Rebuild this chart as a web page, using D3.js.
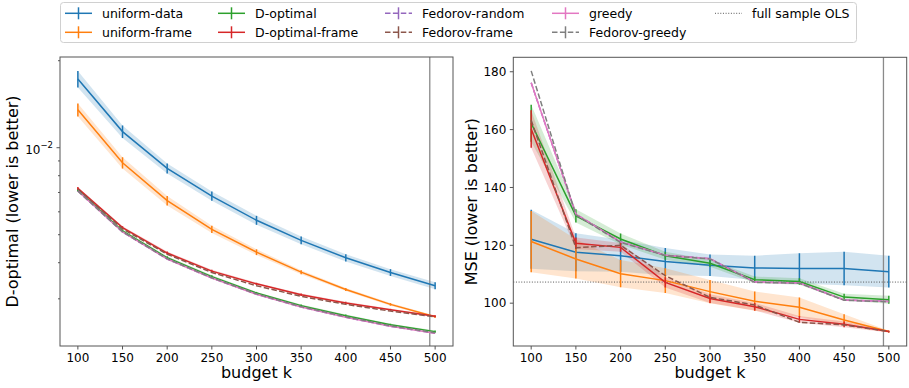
<!DOCTYPE html>
<html><head><meta charset="utf-8">
<script src="https://cdn.jsdelivr.net/npm/d3@7"></script>
<style>body{margin:0;background:#fff;} text{font-family:"DejaVu Sans",sans-serif;fill:#000;}</style>
</head><body><svg id="chart" width="909" height="388"></svg>
<script>
const budgets = [100,150,200,250,300,350,400,450,500];
const seriesNames = ["uniform-data","uniform-frame","D-optimal","D-optimal-frame","Fedorov-random","Fedorov-frame","greedy","Fedorov-greedy"];
const seriesColors = ["#1f77b4","#ff7f0e","#2ca02c","#d62728","#9467bd","#8c564b","#e377c2","#7f7f7f"];
const seriesDashed = [false,false,false,false,true,true,false,true];
const xTicks = [100,150,200,250,300,350,400,450,500];
const budgetLimit = 494;
const fullSampleOLS = 107.3;

// Left panel: D-optimal criterion (log scale)
const doptUniformData     = [0.01728,0.01137,0.00848,0.00680,0.00561,0.00478,0.00416,0.00370,0.00333];
const doptUniformDataErr  = [0.00114,0.00057,0.00034,0.00025,0.00020,0.00015,0.00012,0.00010,0.00009];
const doptUniformFrame    = [0.01352,0.00887,0.00656,0.00522,0.00435,0.00371,0.00323,0.00287,0.00260];
const doptUniformFrameErr = [0.00070,0.00040,0.00025,0.00015,0.00010,0.00006,0.00004,0.00003,0.00002];
const doptDOptimal        = [0.00713,0.00515,0.00416,0.00358,0.00314,0.00284,0.00262,0.00244,0.00231];
const doptDOptimalErr     = [0.00008,0.00006,0.00005,0.00004,0.00003,0.00003,0.00003,0.00002,0.00002];
const doptDOptimalFrame   = [0.00723,0.00529,0.00432,0.00374,0.00338,0.00310,0.00290,0.00275,0.00261];
const doptDOptimalFrameErr= [0.00008,0.00006,0.00005,0.00004,0.00003,0.00003,0.00003,0.00002,0.00002];
const doptFedorovRandom   = [0.00708,0.00511,0.00412,0.00354,0.00311,0.00281,0.00259,0.00241,0.00228];
const doptFedorovFrame    = [0.00718,0.00524,0.00428,0.00370,0.00333,0.00306,0.00287,0.00272,0.00260];
const doptGreedy          = [0.00708,0.00511,0.00412,0.00354,0.00311,0.00281,0.00259,0.00241,0.00228];
const doptFedorovGreedy   = [0.00709,0.00512,0.00413,0.00355,0.00312,0.00282,0.00260,0.00242,0.00229];
const doptMajorTicks = [0.01];
const doptMinorTicks = [0.003,0.004,0.005,0.006,0.007,0.008,0.009,0.02];

// Right panel: MSE
const mseUniformData      = [122.1,117.6,116.4,114.4,113.1,112.2,112.0,112.0,110.9];
const mseUniformDataErr   = [10.2,6.6,5.5,4.7,3.7,4.2,5.3,5.8,5.5];
const mseUniformFrame     = [121.3,115.3,110.2,107.8,104.0,100.7,98.6,94.2,90.2];
const mseUniformFrameErr  = [10.6,6.8,4.7,4.3,4.0,3.3,3.4,2.0,0.3];
const mseDOptimal         = [162.2,130.2,122.2,116.4,113.8,108.1,107.5,102.1,101.2];
const mseDOptimalErr      = [6.4,2.3,1.9,1.4,1.2,1.1,1.1,1.2,1.4];
const mseDOptimalFrame    = [160.2,120.7,119.3,107.2,101.6,98.8,94.4,92.7,90.2];
const mseDOptimalFrameErr = [6.5,2.0,1.5,1.8,1.5,1.3,1.2,1.0,0.3];
const mseFedorovRandom    = [176.2,130.8,121.2,116.6,115.4,107.3,107.0,101.1,100.6];
const mseFedorovFrame     = [163.2,119.2,120.0,109.5,102.0,99.4,93.4,92.5,90.2];
const mseGreedy           = [176.2,130.8,121.2,116.6,115.4,107.3,107.0,101.1,100.6];
const mseFedorovGreedy    = [180.3,130.5,121.0,116.5,115.3,107.2,106.9,101.0,100.5];
const mseTicks = [100,120,140,160,180];

const svg = d3.select("#chart");
const FONT = "DejaVu Sans";

function drawPanel(o) {
  const g = svg.append("g");
  const x = o.x, y = o.y;
  const [x0, x1] = x.range();
  const [yb, yt] = y.range();
  const clipId = "clip" + o.id;
  svg.append("defs").append("clipPath").attr("id", clipId)
    .append("rect").attr("x", x0).attr("y", yt).attr("width", x1 - x0).attr("height", yb - yt);
  const plot = g.append("g").attr("clip-path", `url(#${clipId})`);

  // bands
  o.values.forEach((vals, i) => {
    const err = o.errs[i];
    if (!err) return;
    const area = d3.area().x((d, j) => x(budgets[j])).y0((d, j) => y(vals[j] - err[j])).y1((d, j) => y(vals[j] + err[j]));
    plot.append("path").attr("d", area(vals)).attr("fill", seriesColors[i]).attr("fill-opacity", 0.2).attr("stroke", "none");
  });
  // vertical limit line
  plot.append("line").attr("x1", x(budgetLimit)).attr("x2", x(budgetLimit)).attr("y1", yt).attr("y2", yb)
    .attr("stroke", "#8a8a8a").attr("stroke-width", 1.3);
  if (o.hline !== undefined) {
    plot.append("line").attr("x1", x0).attr("x2", x1).attr("y1", y(o.hline)).attr("y2", y(o.hline))
      .attr("stroke", "#555").attr("stroke-width", 1).attr("stroke-dasharray", "1,1.65");
  }
  // lines and error bars
  o.values.forEach((vals, i) => {
    const line = d3.line().x((d, j) => x(budgets[j])).y(d => y(d));
    const err = o.errs[i];
    if (err) {
      vals.forEach((v, j) => {
        plot.append("line").attr("x1", x(budgets[j])).attr("x2", x(budgets[j]))
          .attr("y1", y(v - err[j])).attr("y2", y(v + err[j]))
          .attr("stroke", seriesColors[i]).attr("stroke-width", 1.5);
      });
    }
    plot.append("path").attr("d", line(vals)).attr("fill", "none").attr("stroke", seriesColors[i])
      .attr("stroke-width", 1.5).attr("stroke-dasharray", seriesDashed[i] ? "5.5,2.4" : null);
  });

  // spines
  g.append("rect").attr("x", x0).attr("y", yt).attr("width", x1 - x0).attr("height", yb - yt)
    .attr("fill", "none").attr("stroke", "#555").attr("stroke-width", 1);

  // x ticks
  xTicks.forEach(t => {
    g.append("line").attr("x1", x(t)).attr("x2", x(t)).attr("y1", yb).attr("y2", yb + 3.5).attr("stroke", "#555");
    g.append("text").attr("x", x(t)).attr("y", yb + 15.5).attr("text-anchor", "middle").attr("font-size", 12).text(t);
  });
  g.append("text").attr("x", (x0 + x1) / 2).attr("y", 378).attr("text-anchor", "middle").attr("font-size", 16).text("budget k");

  o.yTicks(g, x0);
  g.append("text").attr("transform", `translate(${o.ylabelX},${(yt + yb) / 2}) rotate(-90)`)
    .attr("text-anchor", "middle").attr("font-size", 16).text(o.ylabel);
}

// Left panel
const xL = d3.scaleLinear().domain([80, 520]).range([60, 453]);
const yL = d3.scaleLog().domain([0.00206, 0.0206]).range([346, 57]);
drawPanel({
  id: "L", x: xL, y: yL,
  values: [doptUniformData, doptUniformFrame, doptDOptimal, doptDOptimalFrame, doptFedorovRandom, doptFedorovFrame, doptGreedy, doptFedorovGreedy],
  errs: [doptUniformDataErr, doptUniformFrameErr, doptDOptimalErr, doptDOptimalFrameErr, null, null, null, null],
  ylabel: "D-optimal (lower is better)", ylabelX: 18,
  yTicks: (g, x0) => {
    doptMinorTicks.forEach(t => {
      g.append("line").attr("x1", x0 - 2).attr("x2", x0).attr("y1", yL(t)).attr("y2", yL(t)).attr("stroke", "#555");
    });
    doptMajorTicks.forEach(t => {
      g.append("line").attr("x1", x0 - 3.5).attr("x2", x0).attr("y1", yL(t)).attr("y2", yL(t)).attr("stroke", "#555");
      const exp = Math.round(Math.log10(t));
      const tx = g.append("text").attr("x", x0 - 7).attr("y", yL(t) + 6).attr("text-anchor", "end").attr("font-size", 12);
      tx.append("tspan").text("10");
      tx.append("tspan").attr("dy", -6).attr("font-size", 8.5).text("\u2212" + Math.abs(exp));
    });
  }
});

// Right panel
const xR = d3.scaleLinear().domain([80, 520]).range([513.3, 906.7]);
const yR = d3.scaleLinear().domain([85.2, 185]).range([346, 57.3]);
drawPanel({
  id: "R", x: xR, y: yR, hline: fullSampleOLS,
  values: [mseUniformData, mseUniformFrame, mseDOptimal, mseDOptimalFrame, mseFedorovRandom, mseFedorovFrame, mseGreedy, mseFedorovGreedy],
  errs: [mseUniformDataErr, mseUniformFrameErr, mseDOptimalErr, mseDOptimalFrameErr, null, null, null, null],
  ylabel: "MSE (lower is better)", ylabelX: 476.5,
  yTicks: (g, x0) => {
    mseTicks.forEach(t => {
      g.append("line").attr("x1", x0 - 3.5).attr("x2", x0).attr("y1", yR(t)).attr("y2", yR(t)).attr("stroke", "#555");
      g.append("text").attr("x", x0 - 7).attr("y", yR(t) + 4.3).attr("text-anchor", "end").attr("font-size", 12).text(t);
    });
  }
});

// Legend
const legendCols = [65, 218, 385, 552, 715];
const legendRows = [13.3, 32.3];
const lg = svg.append("g");
lg.append("rect").attr("x", 60.5).attr("y", 2.5).attr("width", 796).attr("height", 40).attr("rx", 3)
  .attr("fill", "#fff").attr("fill-opacity", 0.8).attr("stroke", "#d0d0d0").attr("stroke-width", 1);
const legendItems = seriesNames.map((n, i) => ({name: n, color: seriesColors[i], dashed: seriesDashed[i], bar: true}));
legendItems.push({name: "full sample OLS", color: "#555", dotted: true});
legendItems.forEach((it, k) => {
  const cx = legendCols[Math.floor(k / 2)], cy = legendRows[k % 2];
  lg.append("line").attr("x1", cx).attr("x2", cx + 27).attr("y1", cy).attr("y2", cy)
    .attr("stroke", it.color).attr("stroke-width", it.dotted ? 1 : 1.5)
    .attr("stroke-dasharray", it.dotted ? "1,1.65" : (it.dashed ? "5.5,2.4" : null));
  if (it.bar) {
    lg.append("line").attr("x1", cx + 13.5).attr("x2", cx + 13.5).attr("y1", cy - 6).attr("y2", cy + 6)
      .attr("stroke", it.color).attr("stroke-width", 1.5);
  }
  lg.append("text").attr("x", cx + 37).attr("y", cy + 4.5).attr("font-size", 12.5).text(it.name);
});
</script></body></html>
